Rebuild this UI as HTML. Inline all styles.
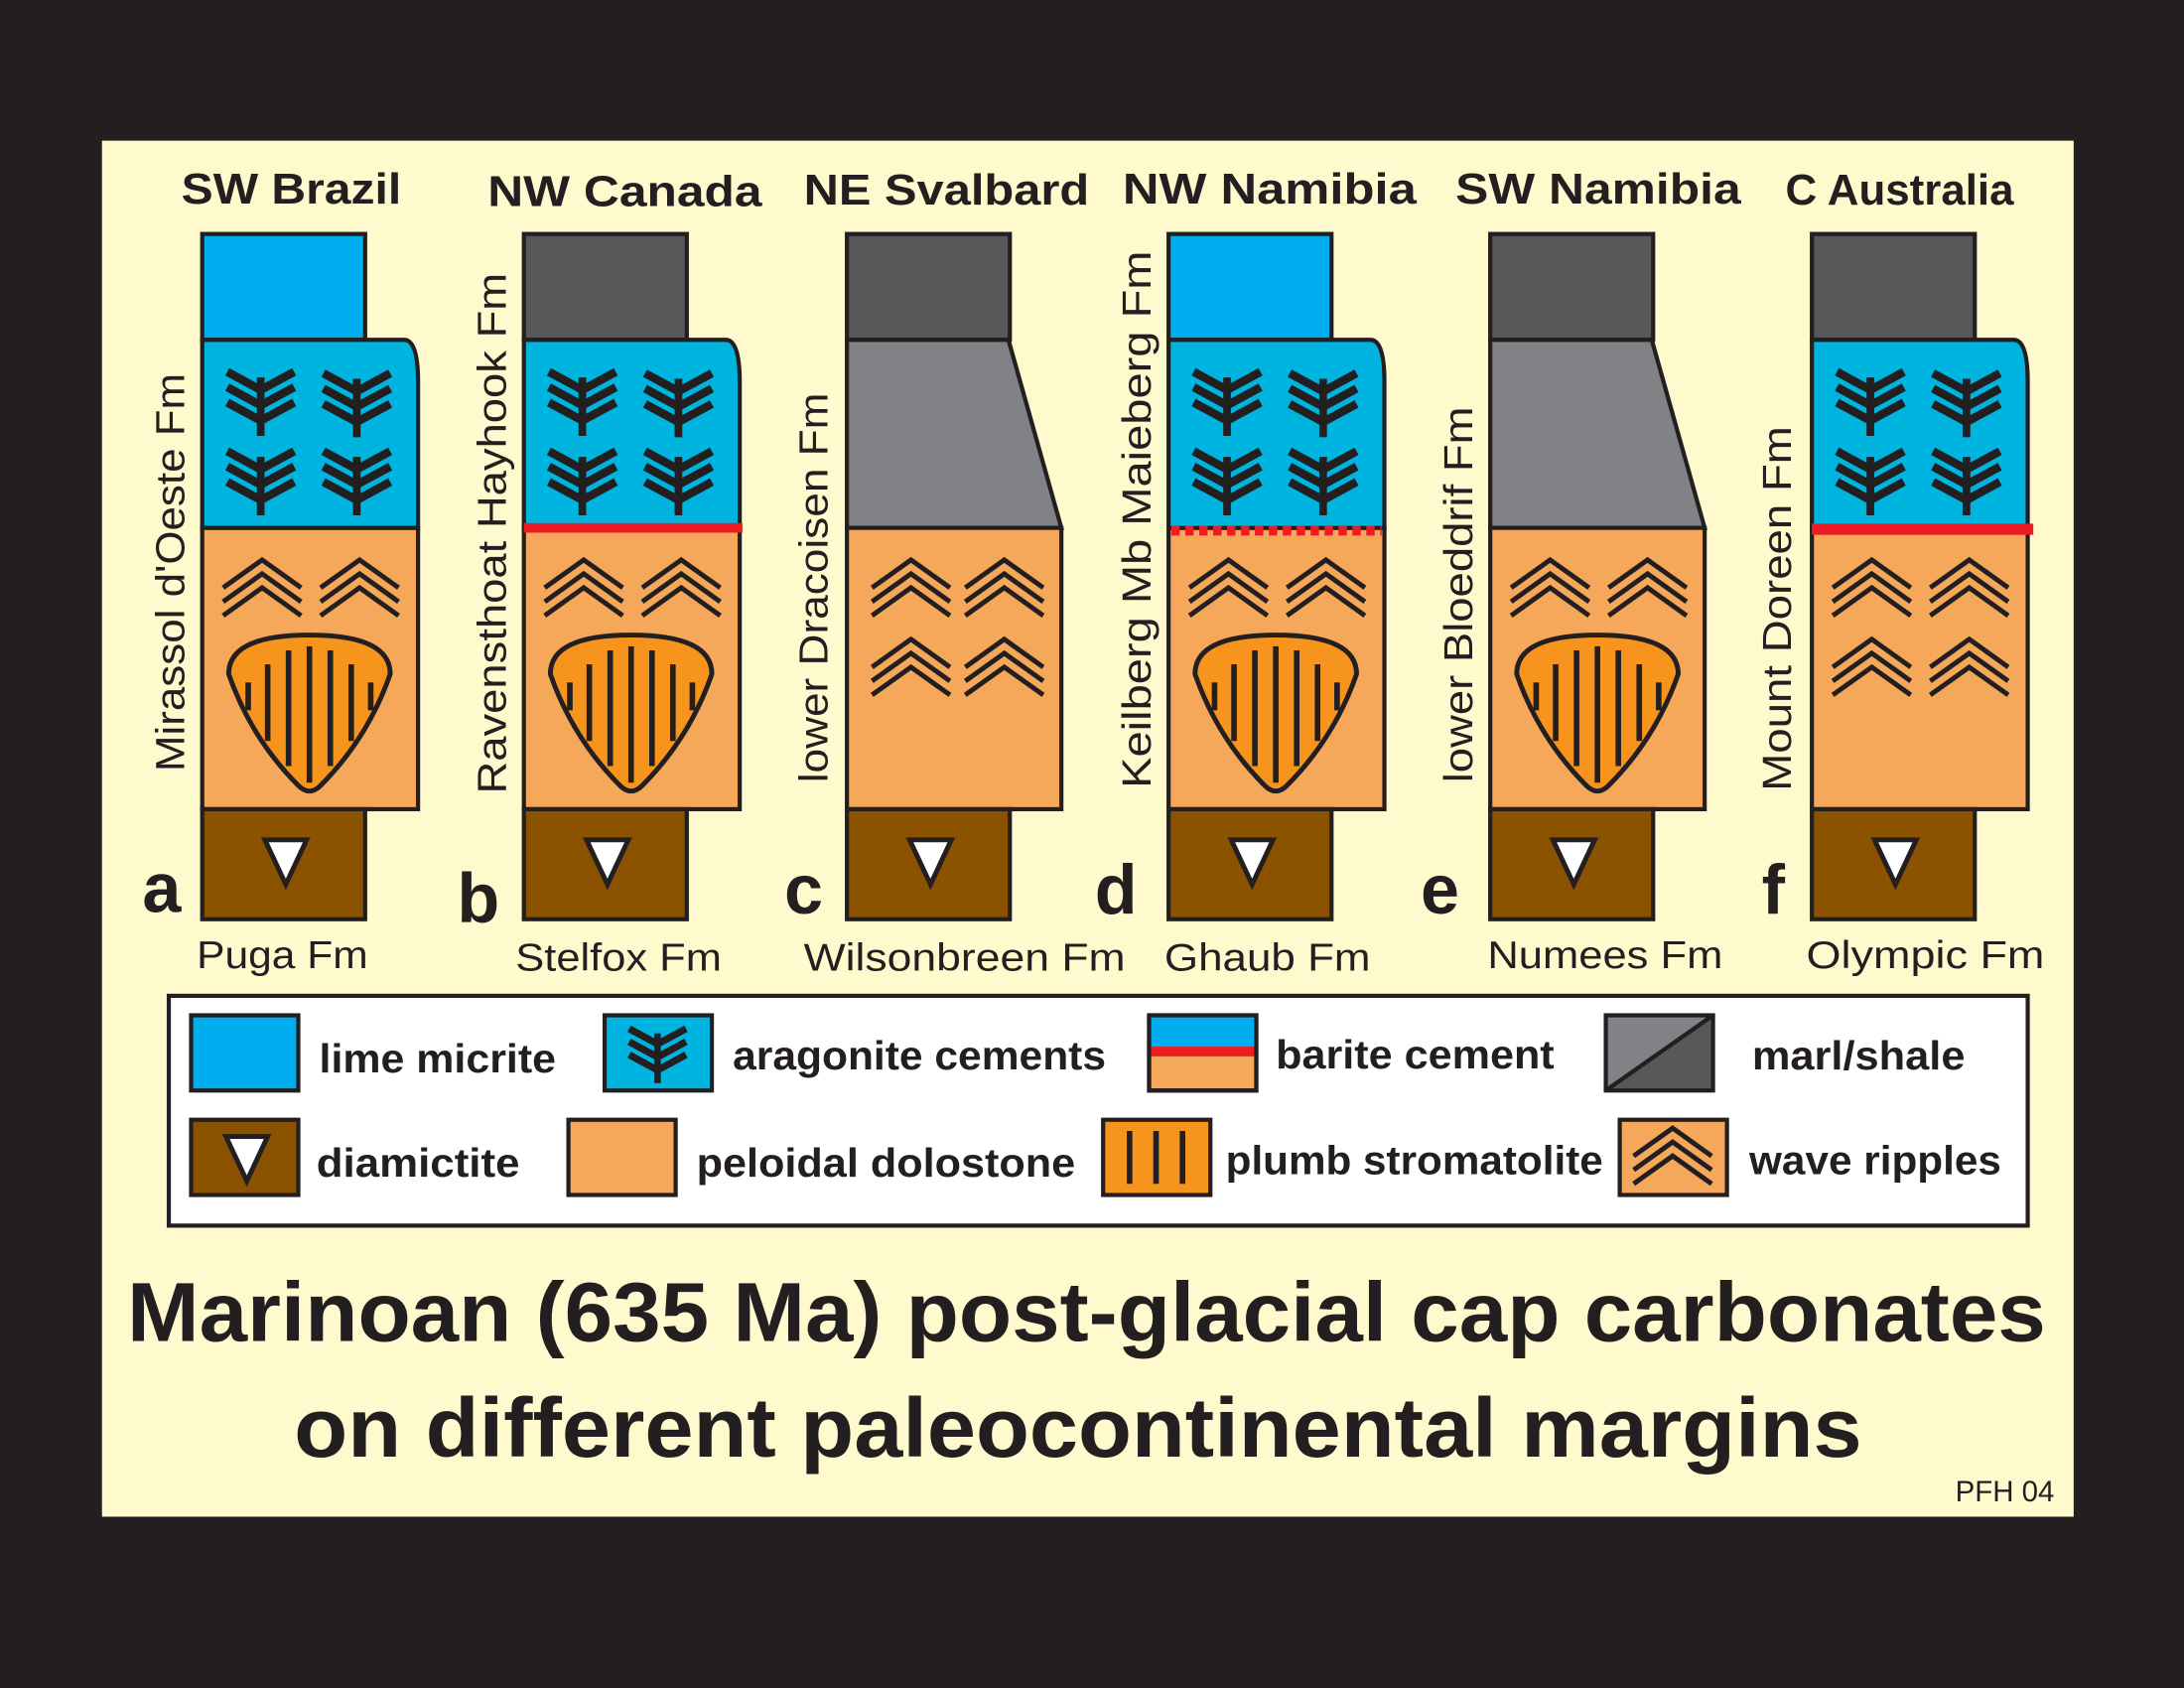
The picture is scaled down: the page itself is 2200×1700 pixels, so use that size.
<!DOCTYPE html>
<html><head><meta charset="utf-8"><style>
html,body{margin:0;padding:0;background:#231f20;}
svg{display:block;}
text{font-family:"Liberation Sans",sans-serif;fill:#231f20;}
.b{font-weight:bold;}
</style></head><body>
<svg width="2200" height="1700" viewBox="0 0 1568 1212" xmlns="http://www.w3.org/2000/svg">
<defs>
<g id="fan" stroke="#231f20" fill="none">
<line x1="0" y1="-20" x2="0" y2="22" stroke-width="5.5"/>
<g stroke-width="6">
<polyline points="-24,-24 0,-11 24,-24"/>
<polyline points="-24,-13 0,0 24,-13"/>
<polyline points="-24,-2 0,11 24,-2"/>
</g>
</g>
<g id="rip" stroke="#231f20" stroke-width="3.5" fill="none">
<polyline points="-28,2 0,-18 28,2"/>
<polyline points="-28,12 0,-8 28,12"/>
<polyline points="-28,22 0,2 28,22"/>
</g>
<g id="strom">
<path d="M-58,-28 Q-58,-56 0,-56 Q58,-56 58,-28 Q42,18 8,52 Q0,60 -8,52 Q-42,18 -58,-28Z" fill="#f7941d" stroke="#231f20" stroke-width="3.5"/>
<g stroke="#231f20" stroke-width="4">
<line x1="-44" y1="-22" x2="-44" y2="-2"/>
<line x1="-30" y1="-35" x2="-30" y2="20"/>
<line x1="-15" y1="-45" x2="-15" y2="38"/>
<line x1="0" y1="-48" x2="0" y2="50"/>
<line x1="15" y1="-45" x2="15" y2="38"/>
<line x1="30" y1="-35" x2="30" y2="20"/>
<line x1="44" y1="-22" x2="44" y2="-2"/>
</g>
</g>
<g id="diam">
<rect x="0" y="0" width="117" height="79" fill="#8b5200" stroke="#231f20" stroke-width="3"/>
<polygon points="45,22 75,22 60,54" fill="#fff" stroke="#231f20" stroke-width="3.5"/>
</g>
<path id="arag" d="M0,0 L145,0 Q155,0 155,30 L155,135 L0,135Z"/>
</defs>
<rect x="0" y="0" width="1568" height="1212" fill="#231f20"/>
<rect x="73" y="101" width="1416" height="988" fill="#fffacd"/>

<!-- titles -->
<g class="b" font-size="31">
<text x="130" y="146" class="b" textLength="158" lengthAdjust="spacingAndGlyphs">SW Brazil</text>
<text x="350" y="148" class="b" textLength="197" lengthAdjust="spacingAndGlyphs">NW Canada</text>
<text x="577" y="147" class="b" textLength="205" lengthAdjust="spacingAndGlyphs">NE Svalbard</text>
<text x="806" y="146" class="b" textLength="211" lengthAdjust="spacingAndGlyphs">NW Namibia</text>
<text x="1045" y="146" class="b" textLength="205" lengthAdjust="spacingAndGlyphs">SW Namibia</text>
<text x="1282" y="147" class="b" textLength="164" lengthAdjust="spacingAndGlyphs">C Australia</text>
</g>

<!-- column a -->
<g transform="translate(145,0)">
<rect x="0" y="168" width="117" height="76" fill="#00aeef" stroke="#231f20" stroke-width="3"/>
<rect x="0" y="379" width="155" height="202" fill="#f6a85a" stroke="#231f20" stroke-width="3"/>
<use href="#arag" y="244" fill="#00b4e0" stroke="#231f20" stroke-width="3"/>
<use href="#fan" x="42" y="291"/><use href="#fan" x="111" y="292"/>
<use href="#fan" x="42" y="348"/><use href="#fan" x="111" y="348"/>
<use href="#rip" x="43" y="420"/><use href="#rip" x="113" y="420"/>
<use href="#strom" x="77" y="512"/>
<use href="#diam" x="0" y="581"/>
</g>
<!-- column b -->
<g transform="translate(376,0)">
<rect x="0" y="168" width="117" height="76" fill="#58585a" stroke="#231f20" stroke-width="3"/>
<rect x="0" y="379" width="155" height="202" fill="#f6a85a" stroke="#231f20" stroke-width="3"/>
<use href="#arag" y="244" fill="#00b4e0" stroke="#231f20" stroke-width="3"/>
<line x1="0" y1="379" x2="157" y2="379" stroke="#ed1c24" stroke-width="7"/>
<use href="#fan" x="42" y="291"/><use href="#fan" x="111" y="292"/>
<use href="#fan" x="42" y="348"/><use href="#fan" x="111" y="348"/>
<use href="#rip" x="43" y="420"/><use href="#rip" x="113" y="420"/>
<use href="#strom" x="77" y="512"/>
<use href="#diam" x="0" y="581"/>
</g>
<!-- column c -->
<g transform="translate(608,0)">
<rect x="0" y="168" width="117" height="76" fill="#58585a" stroke="#231f20" stroke-width="3"/>
<polygon points="0,244 116,244 154,379 0,379" fill="#808285" stroke="#231f20" stroke-width="3"/>
<rect x="0" y="379" width="154" height="202" fill="#f6a85a" stroke="#231f20" stroke-width="3"/>
<use href="#rip" x="46" y="420"/><use href="#rip" x="113" y="420"/>
<use href="#rip" x="46" y="477"/><use href="#rip" x="113" y="477"/>
<use href="#diam" x="0" y="581"/>
</g>
<!-- column d -->
<g transform="translate(839,0)">
<rect x="0" y="168" width="117" height="76" fill="#00aeef" stroke="#231f20" stroke-width="3"/>
<rect x="0" y="379" width="155" height="202" fill="#f6a85a" stroke="#231f20" stroke-width="3"/>
<use href="#arag" y="244" fill="#00b4e0" stroke="#231f20" stroke-width="3"/>
<line x1="2" y1="381" x2="153" y2="381" stroke="#ed1c24" stroke-width="7" stroke-dasharray="6,4"/>
<use href="#fan" x="42" y="291"/><use href="#fan" x="111" y="292"/>
<use href="#fan" x="42" y="348"/><use href="#fan" x="111" y="348"/>
<use href="#rip" x="43" y="420"/><use href="#rip" x="113" y="420"/>
<use href="#strom" x="77" y="512"/>
<use href="#diam" x="0" y="581"/>
</g>
<!-- column e -->
<g transform="translate(1070,0)">
<rect x="0" y="168" width="117" height="76" fill="#58585a" stroke="#231f20" stroke-width="3"/>
<polygon points="0,244 116,244 154,379 0,379" fill="#808285" stroke="#231f20" stroke-width="3"/>
<rect x="0" y="379" width="154" height="202" fill="#f6a85a" stroke="#231f20" stroke-width="3"/>
<use href="#rip" x="43" y="420"/><use href="#rip" x="113" y="420"/>
<use href="#strom" x="77" y="512"/>
<use href="#diam" x="0" y="581"/>
</g>
<!-- column f -->
<g transform="translate(1301,0)">
<rect x="0" y="168" width="117" height="76" fill="#58585a" stroke="#231f20" stroke-width="3"/>
<rect x="0" y="379" width="155" height="202" fill="#f6a85a" stroke="#231f20" stroke-width="3"/>
<use href="#arag" y="244" fill="#00b4e0" stroke="#231f20" stroke-width="3"/>
<line x1="0" y1="380" x2="159" y2="380" stroke="#ed1c24" stroke-width="8"/>
<use href="#fan" x="42" y="291"/><use href="#fan" x="111" y="292"/>
<use href="#fan" x="42" y="348"/><use href="#fan" x="111" y="348"/>
<use href="#rip" x="43" y="420"/><use href="#rip" x="113" y="420"/>
<use href="#rip" x="43" y="477"/><use href="#rip" x="113" y="477"/>
<use href="#diam" x="0" y="581"/>
</g>

<!-- vertical labels -->
<g font-size="29">
<text transform="translate(132,554) rotate(-90)" textLength="286" lengthAdjust="spacingAndGlyphs">Mirassol d'Oeste Fm</text>
<text transform="translate(363,570) rotate(-90)" textLength="374" lengthAdjust="spacingAndGlyphs">Ravensthoat  Hayhook Fm</text>
<text transform="translate(594,562) rotate(-90)" textLength="280" lengthAdjust="spacingAndGlyphs">lower Dracoisen Fm</text>
<text transform="translate(826,566) rotate(-90)" textLength="386" lengthAdjust="spacingAndGlyphs">Keilberg Mb   Maieberg Fm</text>
<text transform="translate(1057,562) rotate(-90)" textLength="270" lengthAdjust="spacingAndGlyphs">lower Bloeddrif Fm</text>
<text transform="translate(1286,568) rotate(-90)" textLength="262" lengthAdjust="spacingAndGlyphs">Mount Doreen Fm</text>
</g>
<!-- letters -->
<g class="b" font-size="50">
<text x="102" y="655" class="b">a</text>
<text x="328" y="662" class="b">b</text>
<text x="563" y="656" class="b">c</text>
<text x="786" y="656" class="b">d</text>
<text x="1020" y="656" class="b">e</text>
<text x="1265" y="656" class="b">f</text>
</g>
<!-- bottom formation names -->
<g font-size="28">
<text x="141" y="695" textLength="123" lengthAdjust="spacingAndGlyphs">Puga Fm</text>
<text x="370" y="697" textLength="148" lengthAdjust="spacingAndGlyphs">Stelfox Fm</text>
<text x="577" y="697" textLength="231" lengthAdjust="spacingAndGlyphs">Wilsonbreen Fm</text>
<text x="836" y="697" textLength="148" lengthAdjust="spacingAndGlyphs">Ghaub Fm</text>
<text x="1068" y="695" textLength="169" lengthAdjust="spacingAndGlyphs">Numees Fm</text>
<text x="1297" y="695" textLength="171" lengthAdjust="spacingAndGlyphs">Olympic Fm</text>
</g>

<!-- legend -->
<rect x="121" y="715" width="1335" height="165" fill="#fff" stroke="#231f20" stroke-width="3"/>
<rect x="137" y="729" width="77" height="54" fill="#00aeef" stroke="#231f20" stroke-width="3"/>
<rect x="434" y="729" width="77" height="54" fill="#00b4e0" stroke="#231f20" stroke-width="3"/>
<g transform="translate(472,759) scale(0.85)"><use href="#fan"/></g>
<rect x="825" y="729" width="77" height="54" fill="#f6a85a" stroke="#231f20" stroke-width="3"/>
<rect x="826" y="730" width="75" height="22" fill="#00aeef"/>
<line x1="826" y1="755" x2="901" y2="755" stroke="#ed1c24" stroke-width="7"/>
<rect x="825" y="729" width="77" height="54" fill="none" stroke="#231f20" stroke-width="3"/>
<polygon points="1153,729 1230,729 1153,783" fill="#808285"/>
<polygon points="1230,729 1230,783 1153,783" fill="#58585a"/>
<rect x="1153" y="729" width="77" height="54" fill="none" stroke="#231f20" stroke-width="3"/>
<line x1="1153" y1="783" x2="1230" y2="729" stroke="#231f20" stroke-width="3"/>
<rect x="137" y="804" width="77" height="54" fill="#8b5200" stroke="#231f20" stroke-width="3"/>
<polygon points="162,816 192,816 177,848" fill="#fff" stroke="#231f20" stroke-width="3.5"/>
<rect x="408" y="804" width="77" height="54" fill="#f6a85a" stroke="#231f20" stroke-width="3"/>
<rect x="792" y="804" width="77" height="54" fill="#f7941d" stroke="#231f20" stroke-width="3"/>
<g stroke="#231f20" stroke-width="4"><line x1="811" y1="812" x2="811" y2="850"/><line x1="830" y1="812" x2="830" y2="850"/><line x1="849" y1="812" x2="849" y2="850"/></g>
<rect x="1163" y="804" width="77" height="54" fill="#f6a85a" stroke="#231f20" stroke-width="3"/>
<use href="#rip" x="1201" y="828"/>
<g class="b" font-size="29">
<text x="229" y="770" class="b" textLength="170" lengthAdjust="spacingAndGlyphs">lime micrite</text>
<text x="526" y="768" class="b" textLength="268" lengthAdjust="spacingAndGlyphs">aragonite cements</text>
<text x="916" y="767" class="b" textLength="200" lengthAdjust="spacingAndGlyphs">barite cement</text>
<text x="1258" y="768" class="b" textLength="153" lengthAdjust="spacingAndGlyphs">marl/shale</text>
<text x="227" y="845" class="b" textLength="146" lengthAdjust="spacingAndGlyphs">diamictite</text>
<text x="500" y="845" class="b" textLength="272" lengthAdjust="spacingAndGlyphs">peloidal dolostone</text>
<text x="880" y="843" class="b" textLength="271" lengthAdjust="spacingAndGlyphs">plumb stromatolite</text>
<text x="1256" y="843" class="b" textLength="181" lengthAdjust="spacingAndGlyphs">wave ripples</text>
</g>

<!-- main title -->
<g class="b" font-size="60" text-anchor="middle">
<text x="780" y="963" class="b" textLength="1378" lengthAdjust="spacingAndGlyphs">Marinoan (635 Ma) post-glacial cap carbonates</text>
<text x="774" y="1046" class="b" textLength="1126" lengthAdjust="spacingAndGlyphs">on different paleocontinental margins</text>
</g>
<text x="1404" y="1078" font-size="21">PFH 04</text>
</svg>
</body></html>
